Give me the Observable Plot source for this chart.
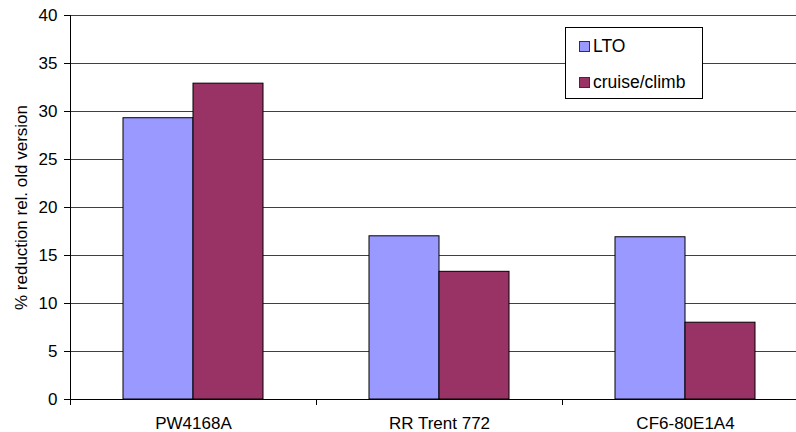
<!DOCTYPE html>
<html><head><meta charset="utf-8">
<script src="https://cdn.jsdelivr.net/npm/d3@7"></script>
<script src="https://cdn.jsdelivr.net/npm/@observablehq/plot@0.6"></script>
<style>
body{margin:0;background:#fff;font-family:"Liberation Sans",Arial,sans-serif;}
#wrap{position:relative;width:796px;height:432px;overflow:hidden;background:#fff;}
#legend{position:absolute;left:565px;top:27px;width:136px;height:70px;border:1px solid #000;background:#fff;font-size:17.5px;color:#000;}
#legend .item{position:absolute;left:13px;display:flex;align-items:center;white-space:nowrap;}
#legend .sw{width:9px;height:9px;border:1px solid #333;margin-right:3px;}
</style>
</head><body>
<div id="wrap"><div id="legend"></div></div>
<script>
const engines = ["PW4168A", "RR Trent 772", "CF6-80E1A4"];
const series = ["LTO", "cruise/climb"];
const ltoValues = [29.3, 17.0, 16.9];
const cruiseValues = [32.9, 13.3, 8.0];
const yTicks = [0, 5, 10, 15, 20, 25, 30, 35, 40];
const colors = ["#9999FF", "#993366"];

const data = engines.flatMap((e, i) => [
  {engine: e, series: series[0], value: ltoValues[i]},
  {engine: e, series: series[1], value: cruiseValues[i]}
]);

const W = 796, H = 432, mL = 70, mR = -12, mT = 15, mB = 33;
const fxStep = (W - mL - mR) / engines.length;

const chart = Plot.plot({
  width: W, height: H,
  marginLeft: mL, marginRight: mR, marginTop: mT, marginBottom: mB,
  style: {fontFamily: '"Liberation Sans", Arial, sans-serif', fontSize: "17px", color: "#000", background: "#fff", overflow: "hidden"},
  fx: {domain: engines, padding: 0, label: null, axis: null},
  x: {domain: series, paddingInner: 0, paddingOuter: 0.745, axis: null},
  y: {domain: [0, 40], axis: null},
  color: {domain: series, range: colors},
  marks: [
    Plot.gridY(yTicks, {stroke: "#000", strokeOpacity: 0.75}),
    Plot.barY(data, {fx: "engine", x: "series", y: "value", fill: "series", stroke: "#000", strokeWidth: 1}),
    Plot.ruleY([0], {stroke: "#000"}),
    Plot.frame({anchor: "left", facetAnchor: "left", stroke: "#000"}),
    Plot.axisY(yTicks, {tickSize: 6, tickPadding: 7, label: "% reduction rel. old version", labelAnchor: "center", labelOffset: 56, labelArrow: "none", stroke: "#000"}),
    Plot.axisFx({anchor: "bottom", tickSize: 0, tickPadding: 17, label: null}),
    Plot.axisFx({anchor: "bottom", tickSize: 6, tickFormat: () => "", dx: -fxStep / 2, label: null, stroke: "#000"})
  ]
});
document.getElementById("wrap").prepend(chart);

const legend = document.getElementById("legend");
series.forEach((s, i) => {
  const item = document.createElement("div");
  item.className = "item";
  item.style.top = (i === 0 ? 8 : 44) + "px";
  const sw = document.createElement("span");
  sw.className = "sw";
  sw.style.background = colors[i];
  const t = document.createElement("span");
  t.textContent = s;
  item.append(sw, t);
  legend.append(item);
});
</script>
</body></html>
